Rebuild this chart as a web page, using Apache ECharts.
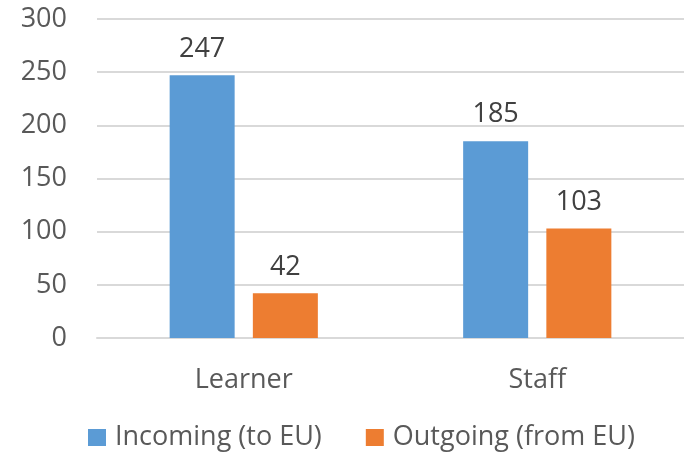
<!DOCTYPE html>
<html><head><meta charset="utf-8">
<script src="https://cdn.jsdelivr.net/npm/echarts@6/dist/echarts.min.js"></script>
<style>html,body{margin:0;padding:0;background:#fff}#c{width:684px;height:452px}</style>
</head><body><div id="c"></div>
<script>
const categories = ['Learner', 'Staff'];
const incoming = [247, 185];
const outgoing = [42, 103];
const seriesNames = ['Incoming (to EU)', 'Outgoing (from EU)'];
const yTicks = [0, 50, 100, 150, 200, 250, 300];

const font = 'Open Sans';
const fs = 27;
const chart = echarts.init(document.getElementById('c'));
chart.setOption({
  animation: false,
  textStyle: { fontFamily: font },
  grid: { left: 97, right: 0, top: 19, bottom: 114 },
  legend: {
    top: 419, left: 83, itemWidth: 18, itemHeight: 17, itemGap: 44,
    icon: 'rect',
    textStyle: { fontSize: fs, color: '#595959', fontFamily: font, padding: [0, 0, 0, 4] }
  },
  xAxis: {
    type: 'category', data: categories,
    axisTick: { show: false },
    axisLine: { lineStyle: { color: '#d9d9d9', width: 2 } },
    axisLabel: { fontSize: fs, color: '#595959', margin: 29, fontFamily: font }
  },
  yAxis: {
    type: 'value', min: yTicks[0], max: yTicks[yTicks.length - 1], interval: 50,
    axisLine: { show: false }, axisTick: { show: false },
    splitLine: { lineStyle: { color: '#d9d9d9', width: 2 } },
    axisLabel: { fontSize: fs, color: '#595959', margin: 30, fontFamily: font }
  },
  series: [
    { name: seriesNames[0], type: 'bar', data: incoming, barWidth: 65, barGap: '28%',
      itemStyle: { color: '#5b9bd5' },
      label: { show: true, position: 'top', distance: 13, fontSize: fs, color: '#404040', fontFamily: font } },
    { name: seriesNames[1], type: 'bar', data: outgoing, barWidth: 65,
      itemStyle: { color: '#ed7d31' },
      label: { show: true, position: 'top', distance: 13, fontSize: fs, color: '#404040', fontFamily: font } }
  ]
});
</script></body></html>
